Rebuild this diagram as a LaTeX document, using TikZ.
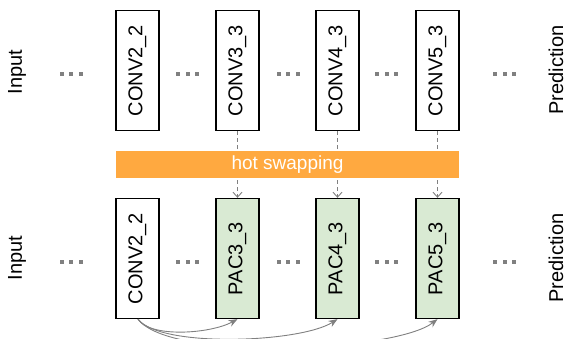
\documentclass[tikz,border=0pt]{standalone}
\usepackage{fontspec}
\setmainfont{Liberation Sans}
\usetikzlibrary{arrows.meta}
\definecolor{dotgray}{HTML}{808080}
\definecolor{linegray}{HTML}{808080}
\definecolor{barorange}{HTML}{FFA940}
\definecolor{pacgreen}{HTML}{D9EAD3}
\newcommand{\mydots}{\textcolor{dotgray}{\rule{4pt}{4pt}\hspace{5.5pt}\rule{4pt}{4pt}\hspace{5.5pt}\rule{4pt}{4pt}}}
\tikzset{
  convbox/.style={draw=black, line width=1.3pt, fill=white, minimum width=43pt, minimum height=120pt, inner sep=0pt, font=\fontsize{20}{22}\selectfont},
  pacbox/.style={convbox, fill=pacgreen},
  sidelabel/.style={font=\fontsize{20}{22}\selectfont, inner sep=0pt},
  dotsnode/.style={inner sep=0pt},
  swaparrow/.style={draw=linegray, line width=0.9pt, dash pattern=on 4pt off 3pt, -{Straight Barb[length=5pt,width=9pt]}},
  skiparrow/.style={draw=linegray, line width=0.9pt, -{Stealth[length=9pt,width=7pt]}},
  barstyle/.style={fill=barorange, draw=none, minimum width=343pt, minimum height=27pt, inner sep=0pt, text=white, font=\fontsize{19}{22}\selectfont}
}
\begin{document}
\begin{tikzpicture}[x={(1pt,0pt)}, y={(0pt,-1pt)}]
\useasboundingbox (0,0) rectangle (566,339);
% side labels
\node[sidelabel] (in1) at (17,72) {\rotatebox{90}{Input}};
\node[sidelabel] (in2) at (17,258) {\rotatebox{90}{Input}};
\node[sidelabel] (pr1) at (556,70) {\rotatebox{90}{Prediction}};
\node[sidelabel] (pr2) at (556,258) {\rotatebox{90}{Prediction}};
% top row
\node[convbox] (c22) at (137.5,70.5) {\rotatebox{90}{CONV2\_2}};
\node[convbox] (c33) at (237.5,70.5) {\rotatebox{90}{CONV3\_3}};
\node[convbox] (c43) at (337.5,70.5) {\rotatebox{90}{CONV4\_3}};
\node[convbox] (c53) at (437.5,70.5) {\rotatebox{90}{CONV5\_3}};
% bottom row
\node[convbox] (b22) at (137.5,258.5) {\rotatebox{90}{CONV2\_2}};
\node[pacbox] (p33) at (237.5,258.5) {\rotatebox{90}{PAC3\_3}};
\node[pacbox] (p43) at (337.5,258.5) {\rotatebox{90}{PAC4\_3}};
\node[pacbox] (p53) at (437.5,258.5) {\rotatebox{90}{PAC5\_3}};
% dots
\foreach \x [count=\i] in {71,187.5,288,386.5,504.5} {
  \node[dotsnode] (td\i) at (\x,74) {\mydots};
  \node[dotsnode] (bd\i) at (\x,262) {\mydots};
}
% swap arrows
\draw[swaparrow] (c33.south) -- (p33.north);
\draw[swaparrow] (c43.south) -- (p43.north);
\draw[swaparrow] (c53.south) -- (p53.north);
% bar
\node[barstyle] (bar) at (287.5,164.5) {hot swapping};
% skip arrows
\coordinate (s) at ([xshift=0.5pt]b22.south);
\draw[skiparrow] (s) .. controls (150,338) and (210,334) .. (p33.south);
\draw[skiparrow] (s) .. controls (160,348) and (300,343) .. (p43.south);
\draw[skiparrow] (s) .. controls (170,362) and (395,352) .. (p53.south);
\end{tikzpicture}
\end{document}
